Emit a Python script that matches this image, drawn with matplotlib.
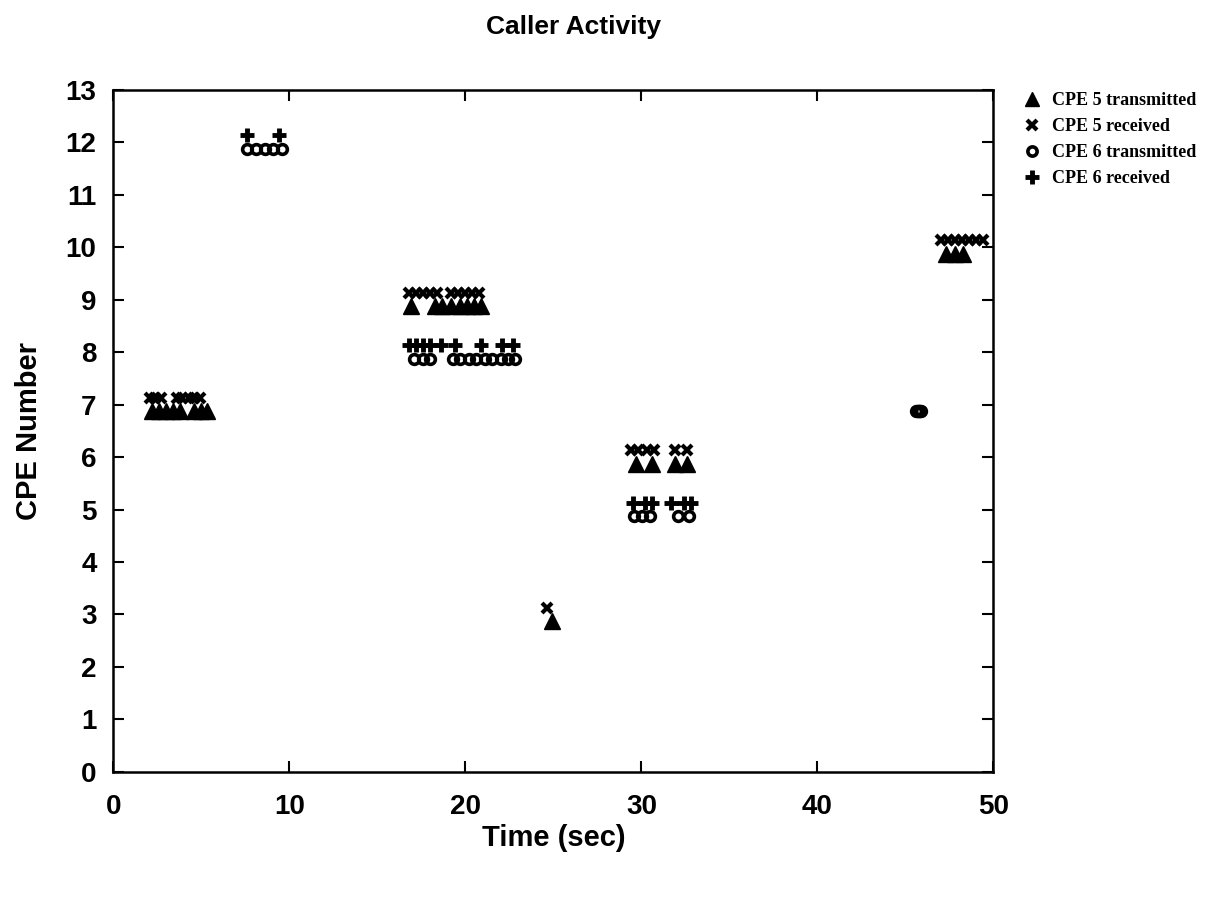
import matplotlib
matplotlib.use("Agg")
import matplotlib.pyplot as plt
from matplotlib.font_manager import FontProperties

# CPE 5 transmitted (triangles), plotted slightly below the CPE line
cpe5_tx_t = [2.2, 2.6, 3.0, 3.4, 3.8, 4.6, 5.0, 5.3,
             16.9, 18.3, 18.7, 19.2, 19.7, 20.1, 20.5, 20.9,
             24.9,
             29.7, 30.6, 31.9, 32.6,
             47.3, 47.8, 48.3]
cpe5_tx_y = [7]*8 + [9]*8 + [3] + [6]*4 + [10]*3

# CPE 5 received (x marks), slightly above
cpe5_rx_t = [2.1, 2.4, 2.7, 3.6, 3.9, 4.3, 4.6, 4.9,
             16.8, 17.2, 17.6, 18.0, 18.4, 19.2, 19.6, 20.0, 20.4, 20.8,
             24.65,
             29.4, 29.8, 30.3, 30.7, 31.9, 32.6,
             47.0, 47.4, 47.8, 48.2, 48.6, 49.0, 49.4]
cpe5_rx_y = [7]*8 + [9]*10 + [3] + [6]*6 + [10]*7

# CPE 6 transmitted (circles), slightly below
cpe6_tx_t = [7.6, 8.1, 8.6, 9.1, 9.6,
             17.1, 17.6, 18.0,
             19.3, 19.7, 20.2, 20.6, 21.1, 21.5, 22.0, 22.4, 22.8,
             29.6, 30.05, 30.5, 32.1, 32.7,
             45.6, 45.65, 45.7, 45.75, 45.8, 45.85, 45.9]
cpe6_tx_y = [12]*5 + [8]*3 + [8]*9 + [5]*5 + [7]*7

# CPE 6 received (plus), slightly above
cpe6_rx_t = [7.6, 9.4,
             16.8, 17.2, 17.6, 18.0, 18.6, 19.4, 20.9, 22.1, 22.7,
             29.5, 30.2, 30.6, 31.7, 32.4, 32.8]
cpe6_rx_y = [12]*2 + [8]*9 + [5]*6

x_ticks = [0, 10, 20, 30, 40, 50]
y_ticks = list(range(0, 14))

fig = plt.figure(figsize=(12.31, 9.06), dpi=100)
ax = fig.add_axes([0.092, 0.148, 0.715, 0.753])

off = 0.13
ax.plot(cpe5_tx_t, [v - off for v in cpe5_tx_y], linestyle='none', marker='^',
        markersize=11, color='black', label='CPE 5 transmitted')
ax.plot(cpe5_rx_t, [v + off for v in cpe5_rx_y], linestyle='none', marker='x',
        markersize=7, markeredgewidth=3, color='black', label='CPE 5 received')
ax.plot(cpe6_tx_t, [v - off for v in cpe6_tx_y], linestyle='none', marker='o',
        markersize=7, markeredgewidth=2.6, markerfacecolor='none',
        markeredgecolor='black', color='black', label='CPE 6 transmitted')
ax.plot(cpe6_rx_t, [v + off for v in cpe6_rx_y], linestyle='none', marker='+',
        markersize=10, markeredgewidth=3.5, color='black', label='CPE 6 received')

ax.set_xlim(0, 50)
ax.set_ylim(0, 13)
ax.set_xticks(x_ticks)
ax.set_yticks(y_ticks)
ax.tick_params(direction='in', length=8, width=1.5, top=True, right=True,
               labelsize=20, pad=10)
for lab in ax.get_xticklabels() + ax.get_yticklabels():
    lab.set_fontweight('bold')
    lab.set_family('Liberation Sans')
ax.tick_params(axis='y', pad=12)
ax.tick_params(axis='x', pad=16)
for s in ax.spines.values():
    s.set_linewidth(1.8)

ax.set_xlabel('Time (sec)', fontsize=21, fontweight='bold', family='Liberation Sans', labelpad=3)
ax.set_ylabel('CPE Number', fontsize=21, fontweight='bold', family='Liberation Sans', labelpad=16)
fig.text(0.4655, 0.970, 'Caller Activity', ha='center', va='center',
         fontsize=19, fontweight='bold', family='Liberation Sans')

leg = ax.legend(loc='upper left', bbox_to_anchor=(1.023, 1.012), frameon=False,
                prop=FontProperties(family='Liberation Serif', weight='bold', size=13),
                handlelength=0.8, handletextpad=0.7, labelspacing=0.5, borderpad=0.1,
                markerscale=0.95)

fig.savefig('out.png', dpi=100)
